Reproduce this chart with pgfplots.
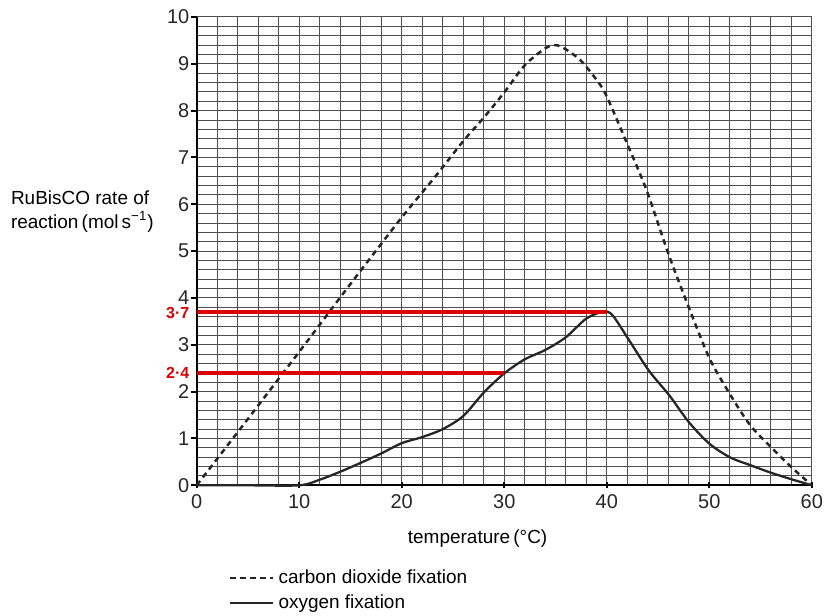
\documentclass[border=0pt]{standalone}
\usepackage{pgfplots}
\pgfplotsset{compat=1.18}
\usepackage{fontspec}
\setmainfont{Liberation Sans}
\definecolor{gridc}{RGB}{80,80,80}
\definecolor{annred}{RGB}{220,0,0}
\begin{document}
\begin{tikzpicture}
\begin{axis}[
  scale only axis,
  width=308pt, height=234.5pt,
  xmin=0, xmax=60, ymin=0, ymax=10,
  xtick={0,10,...,60}, ytick={0,1,...,10},
  minor x tick num=4, minor y tick num=4,
  grid=both,
  major grid style={gridc, line width=0.5pt},
  minor grid style={gridc, line width=0.5pt},
  minor tick length=0pt,
  axis lines*=left,
  axis line style={line width=1pt, black},
  tick style={line width=1pt, black},
  major tick length=3pt,
  xtick align=center, ytick align=outside,
  tick label style={font=\fontsize{10}{12}\selectfont, text=black!85, inner sep=0.5pt},
  xticklabel shift=2.5pt,
  /pgf/number format/assume math mode=true,
  clip=false,
  legend style={draw=none, fill=none, at={(rel axis cs:0.052,-0.171)}, anchor=north west,
    font=\fontsize{9.5}{11}\selectfont, row sep=0pt, inner sep=0pt},
  legend cell align=left,
  legend image code/.code={\draw[#1] (0pt,0pt) -- (21.5pt,0pt);},
]
% carbon dioxide fixation
\addplot[black!85, line width=1.25pt, dash pattern=on 2.8pt off 2.2pt, smooth, tension=0.5]
  coordinates {(0,0) (5,1.42) (10,2.85) (15,4.3) (20,5.72) (23.3,6.6) (26,7.35) (28,7.85)
    (30,8.39) (32,8.97) (34,9.33) (35,9.4) (36,9.31) (37.5,9.06) (39.2,8.6) (40,8.3)
    (41.8,7.39) (43.9,6.29) (46,4.95) (48,3.8) (50,2.72) (52,1.95) (54,1.28)
    (56,0.82) (58,0.39) (60,0)};
\addlegendentry{carbon dioxide fixation}
% oxygen fixation
\addplot[black!85, line width=1.15pt, smooth, tension=0.5]
  coordinates {(0,0) (5,0) (10,0) (12,0.12) (14,0.29) (16,0.48) (18,0.68) (20,0.9)
    (22,1.03) (24,1.2) (26,1.48) (28,1.98) (30,2.39) (32,2.69) (34,2.89) (36,3.16)
    (38,3.56) (39.7,3.71) (40.6,3.62) (42.2,3.09) (44.1,2.45) (46.1,1.92) (48,1.35)
    (50,0.89) (52,0.6) (54,0.43) (56,0.27) (58,0.13) (60,0)};
\addlegendentry{oxygen fixation}
% red read-off lines
\addplot[annred, line width=2.2pt, forget plot] coordinates {(0,3.7) (40,3.7)};
\addplot[annred, line width=2.2pt, forget plot] coordinates {(0,2.4) (30,2.4)};
\node[annred, font=\fontsize{8}{8}\selectfont\bfseries, anchor=east, xshift=-3.5pt, yshift=-0.4pt, inner sep=0pt] at (axis cs:0,3.7) {3·7};
\node[annred, font=\fontsize{8}{8}\selectfont\bfseries, anchor=east, xshift=-3.5pt, inner sep=0pt] at (axis cs:0,2.4) {2·4};
% labels
\node[anchor=east, align=left, font=\fontsize{9.5}{12}\selectfont, xshift=-18pt] at (rel axis cs:0,0.585)
  {RuBisCO rate of\\reaction\,(mol\,s\textsuperscript{−1})};
\node[anchor=north, font=\fontsize{9.5}{12}\selectfont, yshift=-18.5pt] at (axis cs:27.4,0) {temperature\,(°C)};
% bounding box matching the reference
\path (rel axis cs:0,0) ++(-98.5pt,-63.5pt);
\path (rel axis cs:1,1) ++(6.1pt,8.5pt);
\end{axis}
\end{tikzpicture}
\end{document}
